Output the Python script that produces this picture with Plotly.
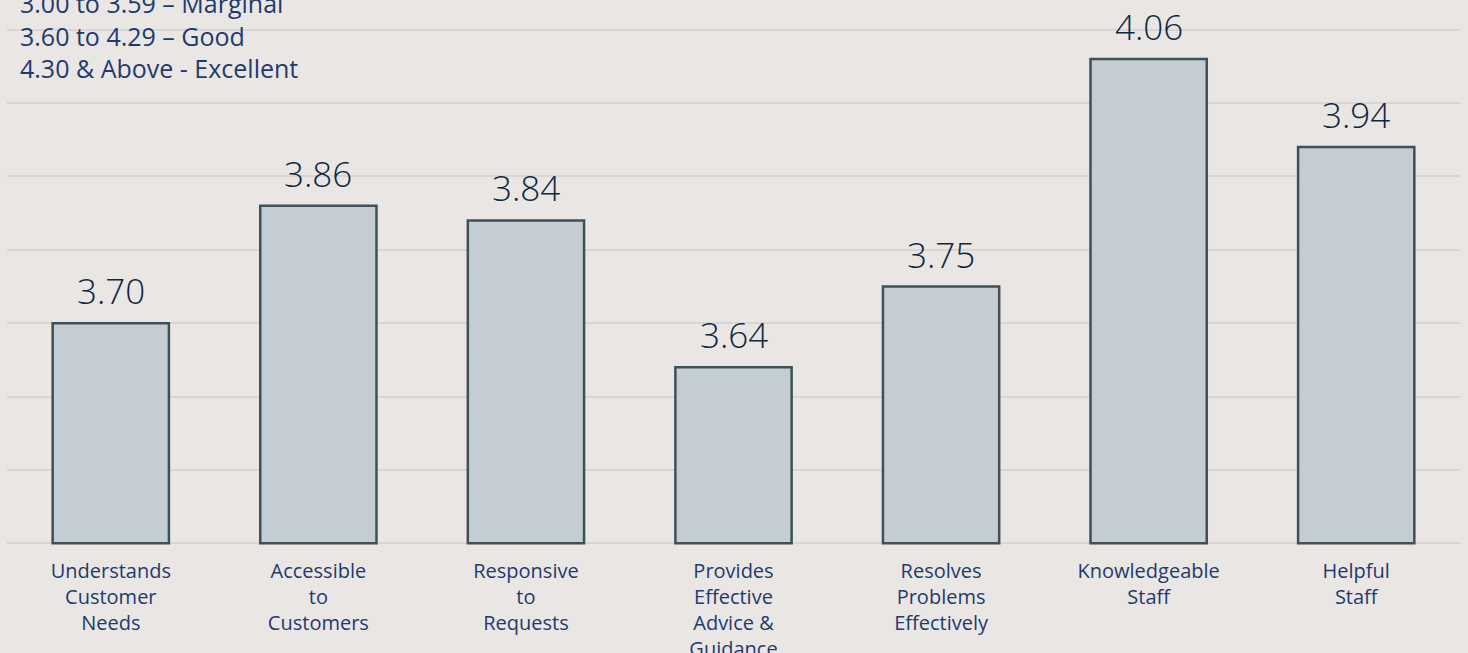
import plotly.graph_objects as go

categories = [
    "Understands<br>Customer<br>Needs",
    "Accessible<br>to<br>Customers",
    "Responsive<br>to<br>Requests",
    "Provides<br>Effective<br>Advice &<br>Guidance",
    "Resolves<br>Problems<br>Effectively",
    "Knowledgeable<br>Staff",
    "Helpful<br>Staff",
]
values = [3.70, 3.86, 3.84, 3.64, 3.75, 4.06, 3.94]
value_labels = ["3.70", "3.86", "3.84", "3.64", "3.75", "4.06", "3.94"]
scale_lines = [
    "3.00 to 3.59 \u2013 Marginal",
    "3.60 to 4.29 \u2013 Good",
    "4.30 & Above - Excellent",
]

FONT = "Open Sans"
BASE = 3.4
xs = list(range(len(categories)))

W, H = 1468, 653
MT, MB = 26, 106
plot_h = H - MT - MB

fig = go.Figure()
fig.add_trace(go.Bar(
    x=xs,
    y=[v - BASE for v in values],
    base=BASE,
    marker=dict(color="#C3CDD3", line=dict(color="#3F5058", width=2.5)),
    hoverinfo="skip",
))

for x, v, t in zip(xs, values, value_labels):
    fig.add_annotation(
        x=x, y=v, xref="x", yref="y", text=t, showarrow=False,
        yanchor="bottom", yshift=7,
        font=dict(family=FONT, size=35, color="#0E2841", weight=300),
    )

fig.add_annotation(
    x=0.0076, y=(H - MB - 36) / plot_h, xref="paper", yref="paper",
    text="<br>".join(scale_lines), showarrow=False,
    xanchor="left", yanchor="middle", align="left",
    font=dict(family=FONT, size=25, color="#1F3A70"),
)

fig.update_layout(
    width=W, height=H,
    margin=dict(l=7, r=8, t=MT, b=MB, autoexpand=False),
    paper_bgcolor="#E9E6E3",
    plot_bgcolor="#E9E6E3",
    bargap=0.44,
    showlegend=False,
    xaxis=dict(
        tickmode="array", tickvals=xs, ticktext=categories,
        range=[-0.5, len(categories) - 0.5],
        showgrid=False, zeroline=False, showline=False,
        ticks="", ticklabelstandoff=10, automargin=False,
        tickfont=dict(family=FONT, size=20, color="#1F3A70"),
        tickangle=0,
    ),
    yaxis=dict(
        range=[3.395, 4.105], dtick=0.1, tick0=3.4,
        showgrid=True, gridcolor="#D8D6D4", gridwidth=2,
        zeroline=False, showline=False, showticklabels=False,
        automargin=False,
    ),
)

fig.write_html("out.html")
